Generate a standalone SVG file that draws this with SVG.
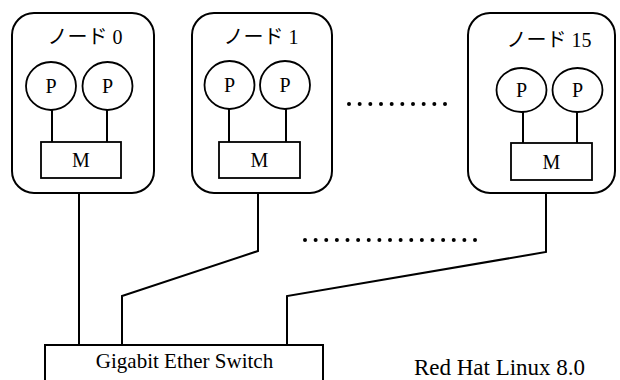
<svg xmlns="http://www.w3.org/2000/svg" width="620" height="380" viewBox="0 0 620 380">
<style>
.box{fill:none;stroke:#000;stroke-width:2}
.cpu{fill:#fff;stroke:#000;stroke-width:1.8}
.mem{fill:#fff;stroke:#000;stroke-width:1.8}
.ln{fill:none;stroke:#000;stroke-width:2}
.t{font-family:"Liberation Serif","Noto Sans CJK JP",serif;fill:#000;text-anchor:middle}
.ttl{font-size:20px}
.lbl{font-size:20px}
.dots{stroke:#000;stroke-width:4;stroke-linecap:round}
</style>
<rect x="0" y="0" width="620" height="380" fill="#fff"/>
<g id="connectors">
<path class="ln" d="M79 193 V345"/>
<path class="ln" d="M258 193 V251 L122 296 V345"/>
<path class="ln" d="M546 193 V252 L287 296 V345"/>
</g>
<g id="node0">
<rect class="box" x="12" y="13" width="142" height="180" rx="22"/>
<text class="t ttl" x="85" y="44">ノード 0</text>
<line class="ln" x1="52" y1="109" x2="52" y2="142"/>
<line class="ln" x1="107" y1="109" x2="107" y2="142"/>
<ellipse class="cpu" cx="51" cy="86" rx="25" ry="24"/>
<ellipse class="cpu" cx="107.5" cy="86" rx="25" ry="24"/>
<text class="t lbl" x="51" y="93">P</text>
<text class="t lbl" x="107.5" y="93">P</text>
<rect class="mem" x="41" y="142" width="80" height="36"/>
<text class="t lbl" x="81" y="167">M</text>
</g>
<g id="node1">
<rect class="box" x="192" y="13" width="140" height="180" rx="22"/>
<text class="t ttl" x="261" y="44">ノード 1</text>
<line class="ln" x1="229" y1="108" x2="229" y2="142"/>
<line class="ln" x1="286" y1="108" x2="286" y2="142"/>
<ellipse class="cpu" cx="229.5" cy="85" rx="25" ry="24"/>
<ellipse class="cpu" cx="285" cy="85" rx="25" ry="24"/>
<text class="t lbl" x="229.5" y="92">P</text>
<text class="t lbl" x="285" y="92">P</text>
<rect class="mem" x="219" y="142" width="81" height="36"/>
<text class="t lbl" x="259.5" y="167">M</text>
</g>
<g id="node15">
<rect class="box" x="468" y="13" width="147" height="180" rx="22"/>
<text class="t ttl" x="549" y="47">ノード 15</text>
<line class="ln" x1="523" y1="111" x2="523" y2="143"/>
<line class="ln" x1="577" y1="111" x2="577" y2="143"/>
<ellipse class="cpu" cx="521.5" cy="90" rx="25" ry="22"/>
<ellipse class="cpu" cx="577.5" cy="90" rx="25" ry="22"/>
<text class="t lbl" x="521.5" y="97">P</text>
<text class="t lbl" x="577.5" y="97">P</text>
<rect class="mem" x="511" y="143" width="81" height="37"/>
<text class="t lbl" x="551.5" y="169">M</text>
</g>
<g id="dots">
<line class="dots" x1="349" y1="104" x2="445.5" y2="104" stroke-dasharray="0 10.667"/>
<line class="dots" x1="305" y1="240" x2="475.5" y2="240" stroke-dasharray="0 10.625"/>
</g>
<g id="switch">
<rect class="box" x="45" y="345" width="278" height="60"/>
<text class="t" x="184.5" y="368" font-size="21">Gigabit Ether Switch</text>
</g>
<text class="t" x="499.5" y="375" font-size="23" id="os">Red Hat Linux 8.0</text>
</svg>
